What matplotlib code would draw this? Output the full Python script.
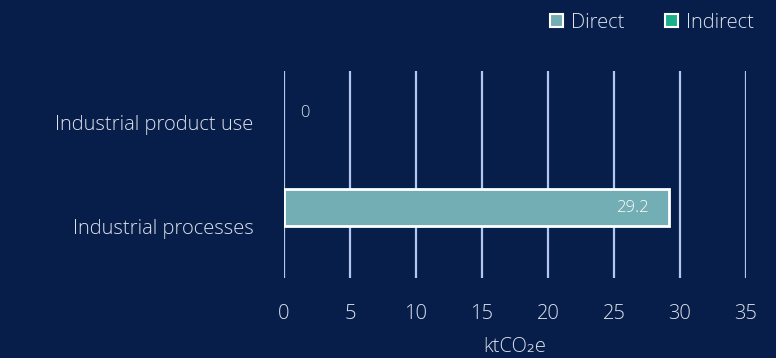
import matplotlib
matplotlib.use("Agg")
import matplotlib.pyplot as plt
from matplotlib.patches import Patch

categories = ["Industrial processes", "Industrial product use"]
direct = [29.2, 0]
indirect = [0, 0]
series_names = ["Direct", "Indirect"]
x_ticks = [0, 5, 10, 15, 20, 25, 30, 35]
x_label = "ktCO\u2082e"

BG = "#081E4A"
TEXT = "#DDE2EC"
GRID = "#B4C6EE"
C_DIRECT = "#74AEB5"
C_INDIRECT = "#1BAE8B"
FONT = "Open Sans"
FS = 14.5

plt.rcParams["font.family"] = [FONT, "DejaVu Sans"]
plt.rcParams["font.weight"] = "light"
plt.rcParams["axes.labelweight"] = "light"

fig = plt.figure(figsize=(7.76, 3.58), dpi=100, facecolor=BG)
ax = fig.add_axes([284 / 776, 1 - 278 / 358, 462 / 776, 207 / 358])
ax.set_facecolor(BG)

bar_h = 0.36
ypos = list(range(len(categories)))
for i, (d, ind) in enumerate(zip(direct, indirect)):
    if d > 0:
        ax.barh(i + bar_h / 2, d, height=bar_h, color=C_DIRECT,
                edgecolor="white", linewidth=2, zorder=3)
        ax.text(d - 1.6, i + bar_h / 2, f"{d:g}", ha="right", va="center",
                color="white", fontsize=12, zorder=4)
    else:
        ax.text(d + 1.2, i + 0.09, f"{d:g}", ha="left", va="center",
                color=TEXT, fontsize=12, zorder=4)
    if ind > 0:
        ax.barh(i - bar_h / 2, ind, height=bar_h, color=C_INDIRECT,
                edgecolor="white", linewidth=2, zorder=3)

ax.set_xlim(0, 35)
ax.set_ylim(-0.5, len(categories) - 0.5)
ax.set_xticks(x_ticks)
ax.set_xticklabels([str(t) for t in x_ticks])
ax.set_yticks(ypos)
ax.set_yticklabels(categories)
ax.grid(axis="x", color=GRID, linewidth=1.6, zorder=1)
ax.tick_params(axis="both", length=0, colors=TEXT, labelsize=FS)
ax.tick_params(axis="x", pad=19)
ax.tick_params(axis="y", pad=22)
for s in ax.spines.values():
    s.set_visible(False)
ax.set_xlabel(x_label, color=TEXT, fontsize=FS, fontweight="light", labelpad=9)

handles = [Patch(facecolor=C_DIRECT, edgecolor="white", linewidth=1.5),
           Patch(facecolor=C_INDIRECT, edgecolor="white", linewidth=1.5)]
leg = fig.legend(handles, series_names, loc="upper right",
                 bbox_to_anchor=(0.995, 1.015), ncol=2, frameon=False,
                 handlelength=0.65, handleheight=0.65, handletextpad=0.4,
                 columnspacing=2.0, fontsize=FS)
for t in leg.get_texts():
    t.set_color(TEXT)

fig.savefig("out.png", dpi=100, facecolor=BG)
